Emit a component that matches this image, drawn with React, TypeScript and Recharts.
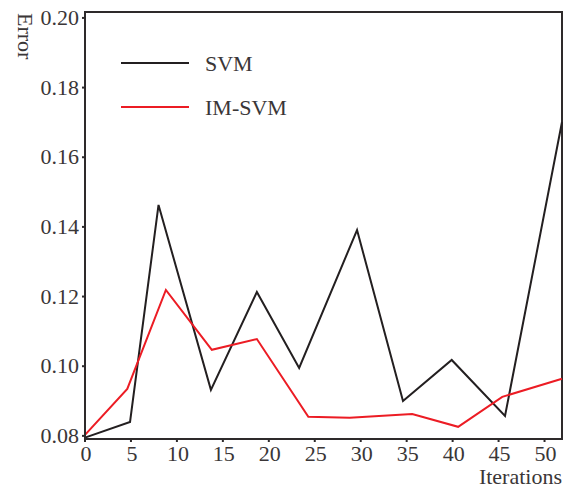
import React from 'react';
import { LineChart, Line, XAxis, YAxis, Legend, ReferenceArea } from 'recharts';

// x positions of each series' vertices (they do not sit exactly on the ticks)
const svmIter = [0, 4.9, 8.0, 13.7, 18.7, 23.3, 29.6, 34.6, 39.9, 45.7, 51.9];
const svmError = [0.0795, 0.084, 0.1463, 0.0932, 0.1213, 0.0995, 0.1391, 0.09, 0.1018, 0.0857, 0.1701];
const imIter = [0, 4.6, 8.8, 13.8, 18.7, 24.3, 28.8, 35.6, 40.6, 45.4, 51.9];
const imSvmError = [0.0803, 0.0935, 0.1219, 0.1047, 0.1078, 0.0855, 0.0852, 0.0863, 0.0826, 0.0912, 0.0964];
const xTicks = [0, 5, 10, 15, 20, 25, 30, 35, 40, 45, 50];
const yTicks = [0.08, 0.1, 0.12, 0.14, 0.16, 0.18, 0.2];
const seriesNames = ['SVM', 'IM-SVM'];

const svmData = svmIter.map((x, i) => ({ x, y: svmError[i] }));
const imData = imIter.map((x, i) => ({ x, y: imSvmError[i] }));

const font = 'Liberation Serif';
const textColor = '#3a3637';
const frame = '#2e2a2b';
const xDomain = [0, 51.9];
const yDomain = [0.0791, 0.2017];

const ErrorLabel = () => (
  <text transform="translate(18,13) rotate(90)" style={{ fontFamily: font }} fontSize={22} fill={textColor}>
    Error
  </text>
);

const IterLabel = (props: any) => {
  const vb = props.viewBox || { x: 85, y: 439, width: 477, height: 51 };
  return (
    <text x={vb.x + vb.width} y={vb.y + vb.height - 6} textAnchor="end" style={{ fontFamily: font }} fontSize={22} fill={textColor}>
      Iterations
    </text>
  );
};

const XTick = (props: any) => {
  const { x, y, payload } = props;
  return (
    <text x={x + 1} y={y} dy={17} textAnchor="middle" style={{ fontFamily: font }} fontSize={22} fill={textColor}>
      {payload.value}
    </text>
  );
};

const YTick = (props: any) => {
  const { x, y, payload } = props;
  return (
    <text x={x} y={y} dy={7} textAnchor="end" style={{ fontFamily: font }} fontSize={22} fill={textColor}>
      {payload.value.toFixed(2)}
    </text>
  );
};

const renderLegend = (props: any) => {
  const items = [...(props.payload || [])].sort(
    (a: any, b: any) => seriesNames.indexOf(a.value) - seriesNames.indexOf(b.value)
  );
  return (
    <svg width={320} height={130} style={{ display: 'block' }}>
      {items.map((e: any, i: number) => (
        <g key={e.value}>
          <line x1={121} x2={189} y1={63 + i * 44} y2={63 + i * 44} stroke={e.color} strokeWidth={2} />
          <text x={205} y={71 + i * 44} style={{ fontFamily: font }} fontSize={22} fill={textColor}>
            {e.value}
          </text>
        </g>
      ))}
    </svg>
  );
};

export default function App() {
  return (
    <div style={{ position: 'absolute', left: 0, top: 0, background: '#fff' }}>
      <LineChart width={568} height={490} margin={{ top: 12, right: 6, bottom: 0, left: 0 }}>
        <XAxis
          dataKey="x"
          type="number"
          domain={xDomain}
          ticks={xTicks}
          interval={0}
          height={51}
          tickSize={3}
          tickMargin={2}
          stroke={frame}
          strokeWidth={2}
          tick={<XTick />}
          label={<IterLabel />}
        />
        <YAxis
          type="number"
          domain={yDomain}
          ticks={yTicks}
          interval={0}
          width={85}
          tickSize={3}
          tickMargin={3}
          stroke={frame}
          strokeWidth={2}
          tick={<YTick />}
          label={<ErrorLabel />}
        />
        <ReferenceArea x1={xDomain[0]} x2={xDomain[1]} y1={yDomain[0]} y2={yDomain[1]} fill="none" stroke={frame} strokeWidth={2} ifOverflow="visible" />
        <Legend
          layout="vertical"
          align="center"
          verticalAlign="middle"
          content={renderLegend}
          wrapperStyle={{ left: 0, top: 0, width: 320, height: 130 }}
        />
        <Line data={svmData} type="linear" dataKey="y" name="SVM" stroke="#231f20" strokeWidth={2} dot={false} isAnimationActive={false} />
        <Line data={imData} type="linear" dataKey="y" name="IM-SVM" stroke="#ec1c24" strokeWidth={2} dot={false} isAnimationActive={false} />
      </LineChart>
    </div>
  );
}
